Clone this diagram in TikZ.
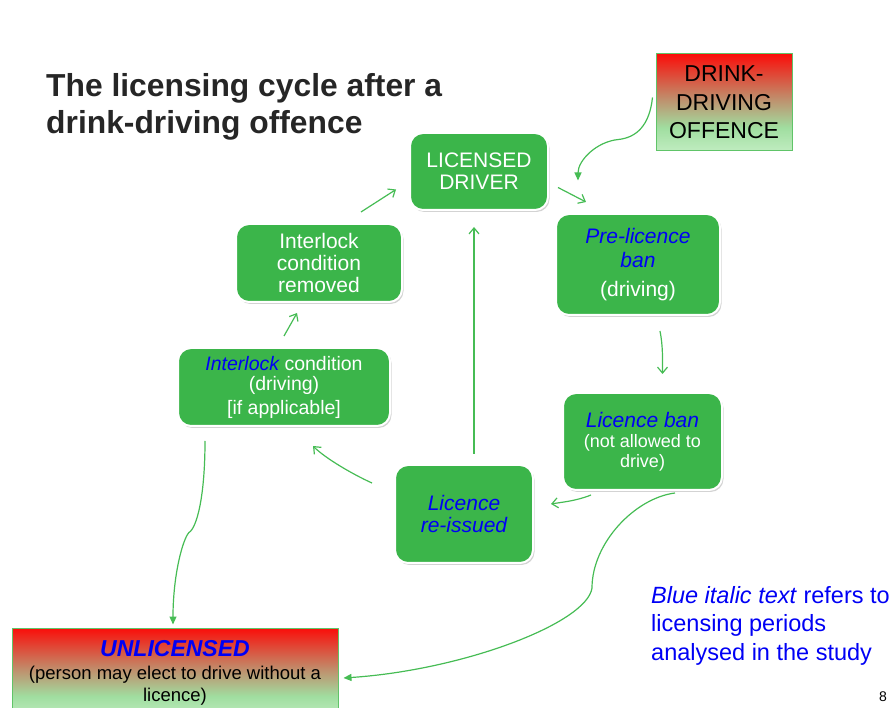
\documentclass[tikz,border=0pt]{standalone}
\usepackage{fontspec}
\setmainfont{Liberation Sans}
\usepackage{xcolor}
\usetikzlibrary{arrows.meta,calc,shadows}
\definecolor{stagegreen}{RGB}{59,181,74}
\definecolor{linkgreen}{RGB}{70,188,84}
\definecolor{edgegreen}{RGB}{96,196,104}
\definecolor{studyblue}{RGB}{0,0,245}
\definecolor{titlegray}{RGB}{38,38,38}
\definecolor{alarmred}{RGB}{250,14,10}
\definecolor{mudbrown}{RGB}{192,142,108}
\definecolor{softgreen}{RGB}{160,222,160}
\definecolor{palegreen}{RGB}{192,236,192}
\pgfdeclareverticalshading{alarmfade}{100bp}{color(0bp)=(palegreen); color(25bp)=(palegreen); color(37bp)=(softgreen); color(52bp)=(mudbrown); color(75bp)=(alarmred); color(100bp)=(alarmred)}
\newcommand{\studytxt}[1]{{\color{studyblue}\itshape #1}}

\begin{document}
\begin{tikzpicture}[x=1pt,y=-1pt,
		stage/.style={draw=white,line width=2pt,fill=stagegreen,rounded corners=13pt,text=white,align=center,inner sep=2pt,
			drop shadow={shadow xshift=1.5pt,shadow yshift=-2pt,opacity=.35}},
		alarm/.style={draw=edgegreen,line width=1pt,shading=alarmfade,align=center,inner sep=2pt},
		cyc/.style={linkgreen,line width=1.2pt,-{Straight Barb[length=6pt,width=10pt]}},
		fed/.style={linkgreen,line width=1.2pt,-{Triangle[length=8pt,width=7pt]}}]
		\useasboundingbox (0,0) rectangle (895,708);
		\node[anchor=north west,inner sep=0,align=left,text=titlegray,font=\fontsize{31.8}{37}\selectfont\bfseries] (title) at (46,73.5) {The licensing cycle after a\\drink-driving offence};
		\node[stage,minimum width=138pt,minimum height=77pt,font=\fontsize{21}{22}\selectfont] (lic) at (479,171.5) {LICENSED\\DRIVER};
		\node[stage,minimum width=164pt,minimum height=101pt,font=\fontsize{21}{24}\selectfont] (pre) at (638,264.5) {\studytxt{Pre-licence}\\\studytxt{ban}\\[5pt](driving)};
		\node[stage,minimum width=159pt,minimum height=97pt,font=\fontsize{18}{20}\selectfont] (ban) at (642.5,441.5) {\studytxt{\fontsize{21}{22}\selectfont Licence ban}\\(not allowed to\\drive)};
		\node[stage,minimum width=138pt,minimum height=98pt,font=\fontsize{21}{22}\selectfont] (reiss) at (464,514) {\studytxt{Licence}\\\studytxt{re-issued}};
		\node[stage,minimum width=212pt,minimum height=78pt,font=\fontsize{19.5}{20}\selectfont] (ilk) at (284,387) {\studytxt{Interlock} condition\\(driving)\\[4pt][if applicable]};
		\node[stage,minimum width=166pt,minimum height=78pt,font=\fontsize{21}{22}\selectfont] (rem) at (319,263) {Interlock\\condition\\removed};
		\node[alarm,minimum width=136pt,minimum height=97pt,font=\fontsize{23}{28.5}\selectfont] (offence) at (724,102.5) {DRINK-\\DRIVING\\OFFENCE};
		\node[alarm,minimum width=326pt,minimum height=90pt,font=\fontsize{18.5}{22.5}\selectfont] (unlic) at (175,673) {\studytxt{\bfseries\fontsize{23}{24}\selectfont UNLICENSED}\\(person may elect to drive without a\\licence)};
		\node[anchor=north west,inner sep=0,align=left,text=studyblue,font=\fontsize{23.5}{28.5}\selectfont] (note) at (651,586) {\textit{Blue italic text} refers to\\licensing periods\\analysed in the study};
		\node[font=\fontsize{14}{16}\selectfont] (page) at (883,697) {8};
		\draw[cyc] ([shift={(9,16)}]lic.east) -- ([shift={(31,-11)}]pre.north west);
		\draw[cyc] ([shift={(22,15)}]pre.south) .. controls +(3,15) and +(0,-15) .. ([shift={(20,-18)}]ban.north);
		\draw[cyc] ([shift={(29,4)}]ban.south west) .. controls +(-15,6) and +(12,-2) .. ([shift={(17,-10)}]reiss.east);
		\draw[cyc] ([shift={(-22,19)}]reiss.north west) .. controls +(-20,-9) and +(12,12) .. ([shift={(-78,19)}]ilk.south east);
		\draw[cyc] ([shift={(0,-11)}]ilk.north) -- ([shift={(-22,10)}]rem.south);
		\draw[cyc] ([shift={(-42,-11)}]rem.north east) -- ([shift={(-13,18)}]lic.west);
		\draw[cyc] ([shift={(10,-10)}]reiss.north) -- ([shift={(-5,16)}]lic.south);
		\draw[fed] ([shift={(-3,-5)}]offence.west) .. controls +(-3,28) and +(18,-2) .. ([shift={(-37,37)}]offence.west)
			.. controls +(-22,2) and +(0,-20) .. ([shift={(29,9)}]lic.east);
		\draw[fed] ([shift={(28,14)}]ilk.south west) .. controls +(0,55) and +(8,-5) .. ([shift={(14,-95)}]unlic.north)
			.. controls +(-6,6) and +(0,-50) .. ([shift={(-2,-3)}]unlic.north);
		\draw[fed] ([shift={(32.5,2)}]ban.south) .. controls +(-40,5) and +(0,-45) .. ([shift={(-50.5,97)}]ban.south)
			.. controls +(-5,35) and +(120,-8) .. ([shift={(5,5)}]unlic.east);
\end{tikzpicture}
\end{document}
